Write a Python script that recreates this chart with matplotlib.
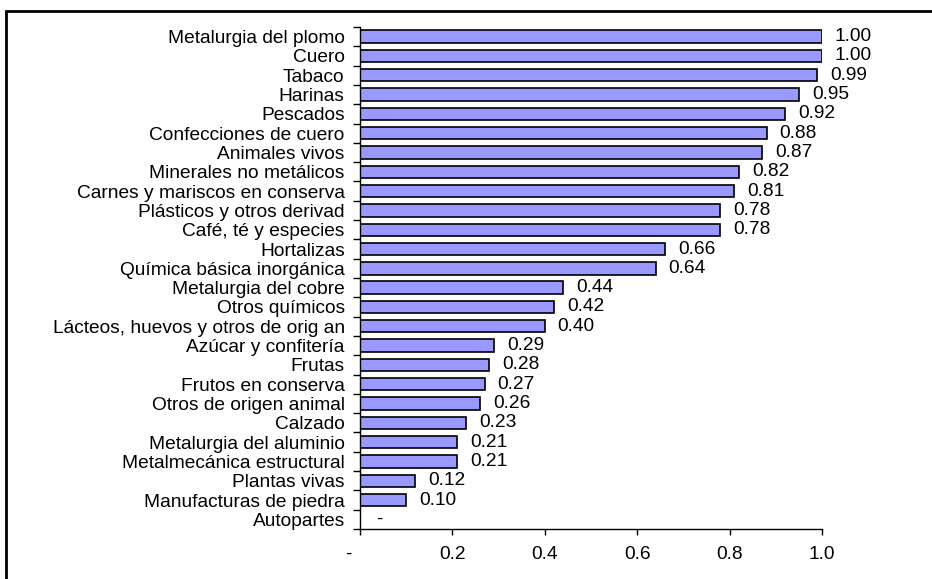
import matplotlib.pyplot as plt
import matplotlib.transforms as mtransforms
import numpy as np

plt.rcParams['font.family'] = ['Liberation Sans', 'DejaVu Sans']

categories = [
    "Metalurgia del plomo", "Cuero", "Tabaco", "Harinas", "Pescados",
    "Confecciones de cuero", "Animales vivos", "Minerales no metálicos",
    "Carnes y mariscos en conserva", "Plásticos y otros derivad",
    "Café, té y especies", "Hortalizas", "Química básica inorgánica",
    "Metalurgia del cobre", "Otros químicos",
    "Lácteos, huevos y otros de orig an", "Azúcar y confitería", "Frutas",
    "Frutos en conserva", "Otros de origen animal", "Calzado",
    "Metalurgia del aluminio", "Metalmecánica estructural", "Plantas vivas",
    "Manufacturas de piedra", "Autopartes",
]
values = [1.00, 1.00, 0.99, 0.95, 0.92, 0.88, 0.87, 0.82, 0.81, 0.78,
          0.78, 0.66, 0.64, 0.44, 0.42, 0.40, 0.29, 0.28, 0.27, 0.26,
          0.23, 0.21, 0.21, 0.12, 0.10, 0.00]
xticks = [0.0, 0.2, 0.4, 0.6, 0.8, 1.0]
xticklabels = ["-", "0.2", "0.4", "0.6", "0.8", "1.0"]

FS = 13.8

fig = plt.figure(figsize=(9.32, 5.79), dpi=100)
ax = fig.add_axes([360 / 932, 1 - 529 / 579, 462 / 932, 502 / 579])

n = len(categories)
y = np.arange(n)
ax.barh(y, values, height=0.64, color="#9999FF", edgecolor="black", linewidth=1.2)

for yi, v in zip(y, values):
    lab = "-" if v == 0 else f"{v:.2f}"
    dx = 0.035 if v == 0 else 0.028
    ax.text(v + dx, yi, lab, va="center", ha="left", fontsize=FS)

ax.set_xlim(0, 1.0)
ax.set_ylim(n - 0.5, -0.5)
ax.set_yticks(y)
ax.set_yticklabels(categories, fontsize=FS)
ax.set_yticks(np.arange(n + 1) - 0.5, minor=True)
ax.tick_params(axis="y", which="major", length=0, pad=11)
ax.tick_params(axis="y", which="minor", length=5, width=1, direction="out")
ax.set_xticks(xticks)
ax.set_xticklabels(xticklabels, fontsize=FS)
ax.tick_params(axis="x", length=4, width=1, direction="out", pad=8)

# Excel puts the zero dash a little left of its tick
off = mtransforms.ScaledTranslation(-12 / 100, 0, fig.dpi_scale_trans)
lbl0 = ax.get_xticklabels()[0]
lbl0.set_transform(lbl0.get_transform() + off)

for s in ["top", "right"]:
    ax.spines[s].set_visible(False)
for s in ["left", "bottom"]:
    ax.spines[s].set_linewidth(1.0)

# outer chart frame (runs off the right and bottom edges)
fig.add_artist(plt.Rectangle((6 / 932, -0.05), 1.0, 1 - 11 / 579 + 0.05,
                             transform=fig.transFigure, fill=False,
                             edgecolor="black", linewidth=2.0))

fig.savefig("out.png", dpi=100)
